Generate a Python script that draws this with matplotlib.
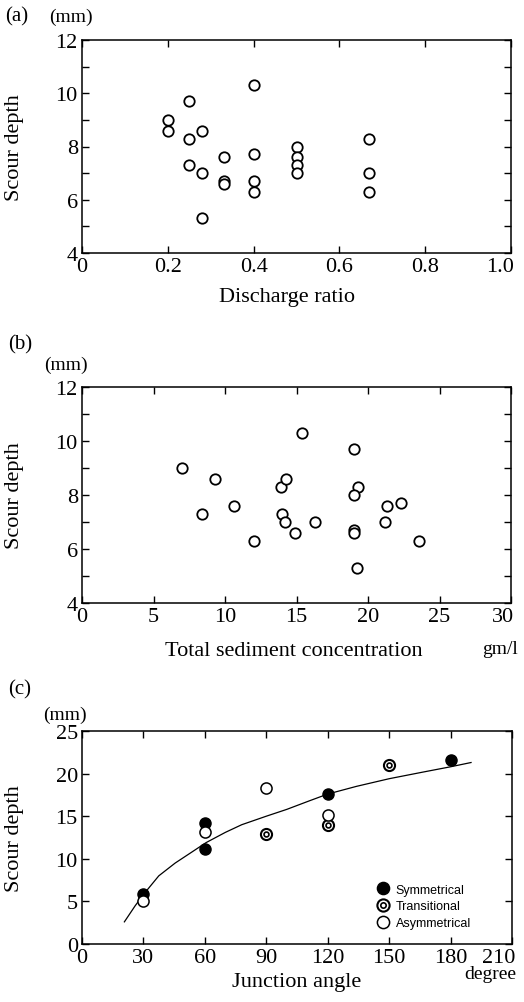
import numpy as np
import matplotlib
matplotlib.use("Agg")
import matplotlib.pyplot as plt
import matplotlib.transforms as mtransforms
from matplotlib.legend_handler import HandlerTuple

plt.rcParams['font.family'] = ['Liberation Serif', 'DejaVu Serif']

# (a) discharge ratio vs scour depth
ratio_a = [0.20, 0.20, 0.25, 0.25, 0.25, 0.28, 0.28, 0.28, 0.33, 0.33, 0.33,
           0.40, 0.40, 0.40, 0.40, 0.50, 0.50, 0.50, 0.50, 0.67, 0.67, 0.67]
depth_a = [9.0, 8.6, 9.7, 8.3, 7.3, 8.6, 7.0, 5.3, 7.6, 6.7, 6.6,
           10.3, 7.7, 6.7, 6.3, 8.0, 7.6, 7.3, 7.0, 8.3, 7.0, 6.3]

# (b) total sediment concentration vs scour depth
conc_b = [7.0, 8.4, 9.3, 10.6, 12.0, 13.9, 14.3, 14.0, 14.2, 14.9, 15.4,
          16.3, 19.0, 19.3, 19.0, 19.0, 19.0, 19.2, 21.2, 21.3, 22.3, 23.6]
depth_b = [9.0, 7.3, 8.6, 7.6, 6.3, 8.3, 8.6, 7.3, 7.0, 6.6, 10.3,
           7.0, 9.7, 8.3, 8.0, 6.7, 6.6, 5.3, 7.0, 7.6, 7.7, 6.3]

# (c) junction angle vs scour depth
sym_angle = [30, 60, 60, 120, 180]
sym_depth = [5.9, 14.2, 11.2, 17.6, 21.6]
tra_angle = [90, 120, 150]
tra_depth = [12.9, 14.0, 21.0]
asy_angle = [30, 60, 90, 120]
asy_depth = [5.1, 13.2, 18.3, 15.1]
fit_angle = [20.7, 26, 31, 37.5, 45.5, 53.7, 60.6, 70, 78, 90, 100, 111, 120, 134, 150, 167, 180, 190]
fit_depth = [2.6, 4.5, 6.1, 8.0, 9.5, 10.8, 11.9, 13.1, 14.0, 15.0, 15.8, 16.8, 17.6, 18.5, 19.4, 20.2, 20.8, 21.3]

W, H = 524, 1003
fig = plt.figure(figsize=(W / 100, H / 100), dpi=100)

def px_axes(l, t, r, b):
    return fig.add_axes([l / W, 1 - b / H, (r - l) / W, (b - t) / H])

def ftext(x, y, s, size, **kw):
    fig.text(x / W, 1 - y / H, s, fontsize=size, ha='center', va='center', **kw)

def style(ax):
    ax.tick_params(direction='in', which='both', top=True, right=True,
                   labelsize=16, pad=3, width=1.0, length=5)
    for s in ax.spines.values():
        s.set_linewidth(1.1)
    ax.set_ylabel('Scour depth', fontsize=16)
    ax.yaxis.set_label_coords(-0.135, 0.5)
    # last x tick label sits flush against the right end of the axis
    lab = ax.get_xticklabels()[-1]
    lab.set_horizontalalignment('right')
    lab.set_transform(lab.get_transform() +
                      mtransforms.ScaledTranslation(3 / 100, 0, fig.dpi_scale_trans))

mk = dict(marker='o', ls='none', ms=7.5, mfc='white', mec='black', mew=1.3)

# ---- panel a
ax1 = px_axes(82, 41, 511, 254)
ax1.plot(ratio_a, depth_a, **mk)
ax1.set_xlim(0, 1.0)
ax1.set_ylim(4, 12)
ax1.set_xticks([0, 0.2, 0.4, 0.6, 0.8, 1.0])
ax1.set_xticklabels(['0', '0.2', '0.4', '0.6', '0.8', '1.0'])
ax1.set_yticks([4, 6, 8, 10, 12])
ax1.set_yticks([5, 7, 9, 11], minor=True)
style(ax1)
ftext(17, 17, '(a)', 15)
ftext(71, 17, '(mm)', 14)
ftext(287, 298, 'Discharge ratio', 16)

# ---- panel b
ax2 = px_axes(82, 388, 511, 604)
ax2.plot(conc_b, depth_b, **mk)
ax2.set_xlim(0, 30)
ax2.set_ylim(4, 12)
ax2.set_xticks([0, 5, 10, 15, 20, 25, 30])
ax2.set_yticks([4, 6, 8, 10, 12])
ax2.set_yticks([5, 7, 9, 11], minor=True)
style(ax2)
ftext(20, 345, '(b)', 15)
ftext(66, 365, '(mm)', 14)
ftext(294, 651, 'Total sediment concentration', 16)
ftext(500, 649, 'gm/l', 14)

# ---- panel c
ax3 = px_axes(82, 732, 512, 945)
ax3.plot(fit_angle, fit_depth, color='black', lw=0.9)
h_sym, = ax3.plot(sym_angle, sym_depth, marker='o', ls='none', ms=8, mfc='black', mec='black', mew=1.0)
h_tra1, = ax3.plot(tra_angle, tra_depth, marker='o', ls='none', ms=8, mfc='white', mec='black', mew=1.5)
h_tra2, = ax3.plot(tra_angle, tra_depth, marker='o', ls='none', ms=3.5, mfc='white', mec='black', mew=1.2)
h_asy, = ax3.plot(asy_angle, asy_depth, marker='o', ls='none', ms=8, mfc='white', mec='black', mew=1.1)
ax3.set_xlim(0, 210)
ax3.set_ylim(0, 25)
ax3.set_xticks([0, 30, 60, 90, 120, 150, 180, 210])
ax3.set_yticks([0, 5, 10, 15, 20, 25])
style(ax3)
leg = ax3.legend([h_sym, (h_tra1, h_tra2), h_asy],
                 ['Symmetrical', 'Transitional', 'Asymmetrical'],
                 handler_map={tuple: HandlerTuple(ndivide=1, pad=0)},
                 loc='upper left', bbox_to_anchor=(0.666, 0.325),
                 frameon=False, handlelength=1.0, handletextpad=0.5,
                 labelspacing=0.38, borderpad=0.2, markerscale=1.1,
                 prop={'family': 'Liberation Sans', 'size': 9})
ftext(20, 690, '(c)', 15)
ftext(65, 715, '(mm)', 14)
ftext(297, 983, 'Junction angle', 16)
ftext(490, 975, 'degree', 14)

fig.savefig('out.png', dpi=100)
